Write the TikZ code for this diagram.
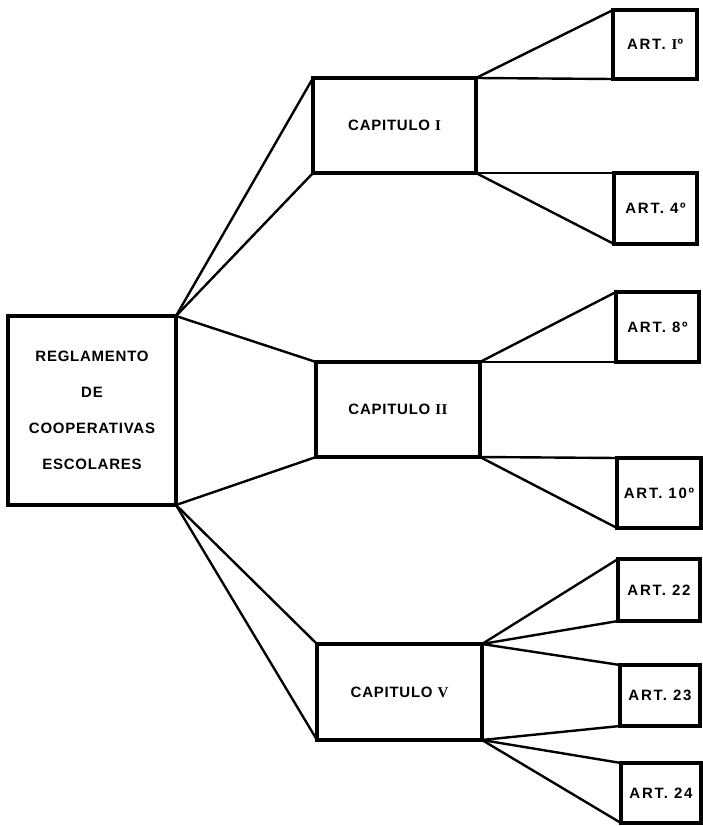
\documentclass[tikz,border=0pt]{standalone}
\usepackage{fontspec}
\newfontfamily\lettering{Liberation Sans}[LetterSpace=5]
\newfontfamily\numeral{Liberation Serif}[LetterSpace=4]
\newcommand{\rn}[1]{{\numeral\bfseries #1}}
\tikzset{
  box/.style={draw=black, line width=3.4pt, outer sep=0pt, inner sep=0pt,
    fill=white, align=center,
    font=\lettering\bfseries\fontsize{15}{36}\selectfont},
  artbox/.style={box, font=\lettering\bfseries\fontsize{15}{36}\selectfont\addfontfeatures{LetterSpace=12}},
  link/.style={draw=black, line width=2.4pt, line cap=round, line join=round},
}
\begin{document}
\begin{tikzpicture}[x=1pt, y=-1pt]
\useasboundingbox (0,0) rectangle (702,826);

% root box
\node[box, minimum width=168pt, minimum height=189pt] (reg) at (92,410.5)
  {REGLAMENTO\\DE\\COOPERATIVAS\\ESCOLARES};

% chapters
\node[box, minimum width=163pt, minimum height=95pt] (cap1) at (394.5,125.5) {CAPITULO \rn{I}};
\node[box, minimum width=164pt, minimum height=95pt] (cap2) at (398,409.5) {CAPITULO \rn{II}};
\node[box, minimum width=165pt, minimum height=96pt] (cap5) at (399.5,692) {CAPITULO \rn{V}};

% articles
\node[artbox, minimum width=84pt, minimum height=69pt] (art1) at (655,44.5) {ART. \rn{I}º};
\node[artbox, minimum width=83pt, minimum height=71pt] (art4) at (655.5,208.5) {ART. 4º};
\node[artbox, minimum width=83pt, minimum height=70pt] (art8) at (657.5,327) {ART. 8º};
\node[artbox, minimum width=84pt, minimum height=70pt] (art10) at (659,493) {ART. 10º};
\node[artbox, minimum width=82pt, minimum height=62pt] (art22) at (659,590) {ART. 22};
\node[artbox, minimum width=80pt, minimum height=61pt] (art23) at (660,695.5) {ART. 23};
\node[artbox, minimum width=80pt, minimum height=60pt] (art24) at (661,793) {ART. 24};

% root to chapters
\draw[link] (reg.north east) -- (cap1.north west);
\draw[link] (reg.north east) -- (cap1.south west);
\draw[link] (reg.north east) -- (cap2.north west);
\draw[link] (reg.south east) -- (cap2.south west);
\draw[link] (reg.south east) -- (cap5.north west);
\draw[link] (reg.south east) -- (cap5.south west);

% chapter I to its articles
\draw[link] (cap1.north east) -- (art1.north west);
\draw[link] (cap1.north east) -- (art1.south west);
\draw[link] (cap1.south east) -- (art4.north west);
\draw[link] (cap1.south east) -- (art4.south west);

% chapter II to its articles
\draw[link] (cap2.north east) -- (art8.north west);
\draw[link] (cap2.north east) -- (art8.south west);
\draw[link] (cap2.south east) -- (art10.north west);
\draw[link] (cap2.south east) -- (art10.south west);

% chapter V to its articles
\draw[link] (cap5.north east) -- (art22.north west);
\draw[link] (cap5.north east) -- (art22.south west);
\draw[link] (cap5.north east) -- (art23.north west);
\draw[link] (cap5.south east) -- (art23.south west);
\draw[link] (cap5.south east) -- (art24.north west);
\draw[link] (cap5.south east) -- (art24.south west);
\end{tikzpicture}
\end{document}
